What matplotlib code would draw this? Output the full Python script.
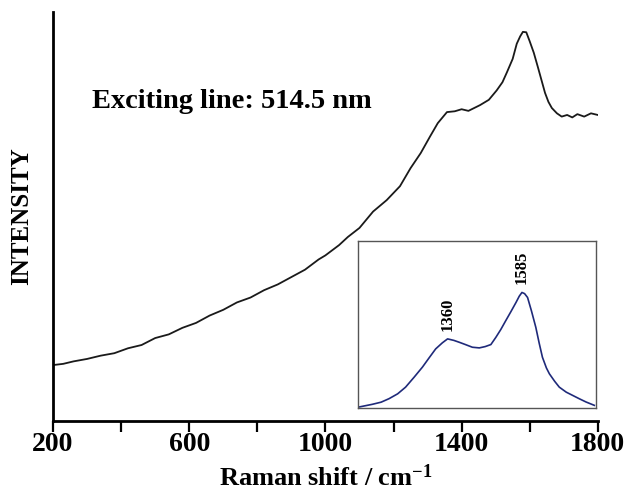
import numpy as np
import matplotlib
matplotlib.use('Agg')
import matplotlib.pyplot as plt
from matplotlib.ticker import FixedLocator

plt.rcParams['font.family'] = ['Liberation Serif', 'DejaVu Serif']
plt.rcParams['font.weight'] = 'bold'
plt.rcParams['mathtext.fontset'] = 'custom'
plt.rcParams['mathtext.rm'] = 'Liberation Serif:bold'
plt.rcParams['mathtext.bf'] = 'Liberation Serif:bold'
plt.rcParams['mathtext.default'] = 'bf'

# main spectrum (normalised intensity)
shift = [200, 230, 260, 300, 340, 380, 420, 460, 500, 540, 580, 620, 660, 700,
         740, 780, 820, 860, 900, 940, 980, 1000, 1040, 1066, 1100, 1140, 1180,
         1219, 1250, 1280, 1307, 1330, 1357, 1380, 1400, 1420, 1454, 1480, 1503,
         1520, 1533, 1550, 1562, 1572, 1580, 1590, 1600, 1612, 1624, 1635, 1645,
         1655, 1665, 1680, 1694, 1710, 1725, 1740, 1760, 1780, 1800]
intensity = [0.137, 0.140, 0.146, 0.152, 0.160, 0.166, 0.178, 0.186, 0.203, 0.212,
             0.228, 0.240, 0.258, 0.272, 0.290, 0.302, 0.320, 0.334, 0.352, 0.370,
             0.395, 0.405, 0.430, 0.450, 0.472, 0.512, 0.540, 0.574, 0.618, 0.655,
             0.695, 0.728, 0.755, 0.757, 0.762, 0.758, 0.772, 0.785, 0.808, 0.828,
             0.852, 0.885, 0.922, 0.940, 0.951, 0.950, 0.928, 0.900, 0.865, 0.832,
             0.802, 0.780, 0.765, 0.752, 0.744, 0.748, 0.742, 0.750, 0.744, 0.752,
             0.748]

# inset: background-subtracted spectrum
ins_shift = [1093, 1133, 1160, 1184, 1210, 1234, 1260, 1285, 1305, 1325, 1345,
             1361, 1380, 1396, 1415, 1436, 1457, 1475, 1492, 1507, 1522, 1537,
             1552, 1568, 1578, 1586, 1594, 1603, 1615, 1628, 1638, 1648, 1660,
             1669, 1685, 1699, 1720, 1739, 1760, 1780, 1805]
ins_int = [0.006, 0.022, 0.035, 0.056, 0.085, 0.125, 0.185, 0.245, 0.300, 0.354,
           0.390, 0.414, 0.405, 0.394, 0.380, 0.364, 0.360, 0.368, 0.380, 0.423,
           0.470, 0.523, 0.575, 0.632, 0.670, 0.692, 0.685, 0.662, 0.580, 0.483,
           0.390, 0.304, 0.240, 0.205, 0.160, 0.125, 0.095, 0.076, 0.055, 0.036,
           0.016]
peak_pos = [1360, 1585]
peak_lbl_y = [0.463, 0.742]

fig = plt.figure(figsize=(6.24, 4.92), dpi=100)
ax = fig.add_axes([0.085, 0.144, 0.873, 0.832])
ax.plot(shift, intensity, color='#1a1a1a', lw=1.3)
ax.set_xlim(200, 1800)
ax.set_ylim(0, 1)
for s in ('top', 'right'):
    ax.spines[s].set_visible(False)
for s in ('left', 'bottom'):
    ax.spines[s].set_linewidth(2.0)
ax.set_yticks([])
ax.set_xticks([200, 600, 1000, 1400, 1800])
ax.xaxis.set_minor_locator(FixedLocator([400, 800, 1200, 1600]))
ax.tick_params(axis='x', which='both', direction='out', length=8, width=1.6,
               labelsize=20, pad=0)
ax.set_xlabel('Raman shift / cm$^{-1}$', fontsize=19, fontweight='bold',
              labelpad=5)
ax.set_ylabel('INTENSITY', fontsize=18, fontweight='bold', labelpad=14)
ax.text(0.072, 0.78, 'Exciting line: 514.5 nm', transform=ax.transAxes,
        fontsize=20.5, fontweight='bold', ha='left', va='center')

# inset
axi = fig.add_axes([0.5737, 0.1707, 0.3814, 0.3394])
axi.plot(ins_shift, ins_int, color='#1f2a7a', lw=1.2)
axi.set_xlim(1090, 1810)
axi.set_ylim(0, 1)
axi.set_xticks([])
axi.set_yticks([])
for s in axi.spines.values():
    s.set_color('#555555')
    s.set_linewidth(1.0)
for x, y in zip(peak_pos, peak_lbl_y):
    axi.text(x, y, str(x), rotation=90, ha='center', va='bottom', fontsize=12,
             fontweight='bold')

fig.savefig('out.png', dpi=100)
